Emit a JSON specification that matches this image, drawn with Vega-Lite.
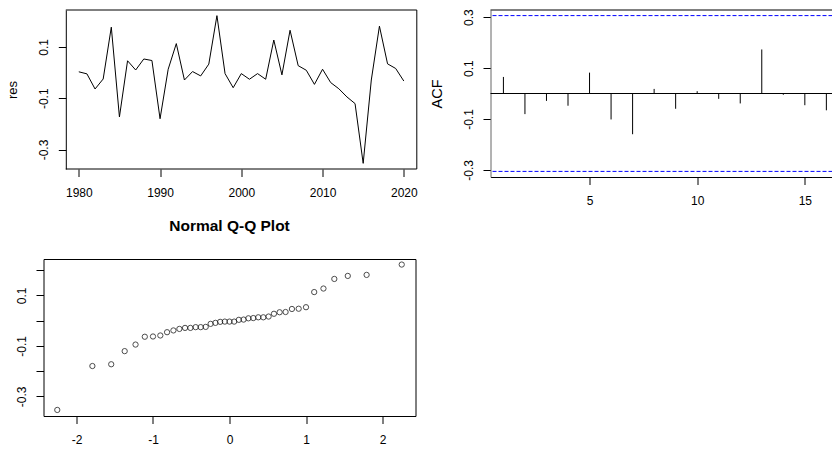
{
  "$schema": "https://vega.github.io/schema/vega-lite/v6.json",
  "background": "white",
  "padding": {"left": 5.5, "top": 8, "right": 0, "bottom": 0},
  "config": {
    "font": "Liberation Sans",
    "view": {"stroke": "#000", "strokeWidth": 1},
    "axis": {"grid": false, "domain": false, "ticks": true, "tickColor": "#000", "tickSize": 7.5, "labelFont": "Liberation Sans", "labelFontSize": 12, "labelColor": "#000", "labelPadding": 10.5, "titleFont": "Liberation Sans", "titleFontSize": 13, "titleFontWeight": "normal", "titleColor": "#000", "labelFlush": false, "labelOverlap": false},
    "axisY": {"labelAngle": -90, "labelAlign": "center", "labelBaseline": "alphabetic"},
    "axisX": {"labelBaseline": "top", "labelPadding": 10.5}
  },
  "datasets": {
    "res": [
      {"year": 1980, "res": 0.003}, {"year": 1981, "res": -0.005}, {"year": 1982, "res": -0.064}, {"year": 1983, "res": -0.025},
      {"year": 1984, "res": 0.177}, {"year": 1985, "res": -0.173}, {"year": 1986, "res": 0.046}, {"year": 1987, "res": 0.010},
      {"year": 1988, "res": 0.053}, {"year": 1989, "res": 0.047}, {"year": 1990, "res": -0.180}, {"year": 1991, "res": 0.013},
      {"year": 1992, "res": 0.113}, {"year": 1993, "res": -0.029}, {"year": 1994, "res": 0.004}, {"year": 1995, "res": -0.013},
      {"year": 1996, "res": 0.033}, {"year": 1997, "res": 0.222}, {"year": 1998, "res": -0.004}, {"year": 1999, "res": -0.059},
      {"year": 2000, "res": -0.004}, {"year": 2001, "res": -0.026}, {"year": 2002, "res": -0.004}, {"year": 2003, "res": -0.026},
      {"year": 2004, "res": 0.127}, {"year": 2005, "res": -0.009}, {"year": 2006, "res": 0.165}, {"year": 2007, "res": 0.027},
      {"year": 2008, "res": 0.009}, {"year": 2009, "res": -0.046}, {"year": 2010, "res": 0.013}, {"year": 2011, "res": -0.039},
      {"year": 2012, "res": -0.063}, {"year": 2013, "res": -0.095}, {"year": 2014, "res": -0.121}, {"year": 2015, "res": -0.354},
      {"year": 2016, "res": -0.029}, {"year": 2017, "res": 0.181}, {"year": 2018, "res": 0.034}, {"year": 2019, "res": 0.016},
      {"year": 2020, "res": -0.033}
    ],
    "acf": [
      {"lag": 1, "acf": 0.065}, {"lag": 2, "acf": -0.081}, {"lag": 3, "acf": -0.029}, {"lag": 4, "acf": -0.048},
      {"lag": 5, "acf": 0.082}, {"lag": 6, "acf": -0.102}, {"lag": 7, "acf": -0.160}, {"lag": 8, "acf": 0.018},
      {"lag": 9, "acf": -0.060}, {"lag": 10, "acf": 0.009}, {"lag": 11, "acf": -0.021}, {"lag": 12, "acf": -0.039},
      {"lag": 13, "acf": 0.173}, {"lag": 14, "acf": -0.005}, {"lag": 15, "acf": -0.046}, {"lag": 16, "acf": -0.066}
    ],
    "ci": [{"ci": 0.306}, {"ci": -0.306}],
    "lines": [{"v": 0}, {"v": 0.328}],
    "qq": [
      {"theoretical": -2.251, "sample": -0.354}, {"theoretical": -1.792, "sample": -0.180}, {"theoretical": -1.546, "sample": -0.173},
      {"theoretical": -1.370, "sample": -0.121}, {"theoretical": -1.228, "sample": -0.095}, {"theoretical": -1.107, "sample": -0.064},
      {"theoretical": -1.000, "sample": -0.063}, {"theoretical": -0.904, "sample": -0.059}, {"theoretical": -0.816, "sample": -0.046},
      {"theoretical": -0.733, "sample": -0.039}, {"theoretical": -0.655, "sample": -0.033}, {"theoretical": -0.581, "sample": -0.029},
      {"theoretical": -0.511, "sample": -0.029}, {"theoretical": -0.442, "sample": -0.026}, {"theoretical": -0.376, "sample": -0.026},
      {"theoretical": -0.311, "sample": -0.025}, {"theoretical": -0.247, "sample": -0.013}, {"theoretical": -0.184, "sample": -0.009},
      {"theoretical": -0.122, "sample": -0.005}, {"theoretical": -0.061, "sample": -0.004}, {"theoretical": 0.0, "sample": -0.004},
      {"theoretical": 0.061, "sample": -0.004}, {"theoretical": 0.122, "sample": 0.003}, {"theoretical": 0.184, "sample": 0.004},
      {"theoretical": 0.247, "sample": 0.009}, {"theoretical": 0.311, "sample": 0.010}, {"theoretical": 0.376, "sample": 0.013},
      {"theoretical": 0.442, "sample": 0.013}, {"theoretical": 0.511, "sample": 0.016}, {"theoretical": 0.581, "sample": 0.027},
      {"theoretical": 0.655, "sample": 0.033}, {"theoretical": 0.733, "sample": 0.034}, {"theoretical": 0.816, "sample": 0.046},
      {"theoretical": 0.904, "sample": 0.047}, {"theoretical": 1.000, "sample": 0.053}, {"theoretical": 1.107, "sample": 0.113},
      {"theoretical": 1.228, "sample": 0.127}, {"theoretical": 1.370, "sample": 0.165}, {"theoretical": 1.546, "sample": 0.177},
      {"theoretical": 1.792, "sample": 0.181}, {"theoretical": 2.251, "sample": 0.222}
    ]
  },
  "spacing": 12,
  "vconcat": [
    {
      "bounds": "flush",
      "spacing": 73,
      "hconcat": [
        {
          "width": 373.3,
          "height": 159,
          "view": {"stroke": null},
          "layer": [
            {
              "data": {"name": "res"},
              "mark": {"type": "line", "color": "#000", "strokeWidth": 1},
              "encoding": {
                "x": {"field": "year", "type": "quantitative", "scale": {"domain": [1975.655, 2021.6], "nice": false, "zero": false},
                      "axis": {"values": [1980, 1990, 2000, 2010, 2020], "format": "d", "title": null}},
                "y": {"field": "res", "type": "quantitative", "scale": {"domain": [-0.376, 0.244], "nice": false, "zero": false},
                      "axis": {"values": [-0.3, -0.2, -0.1, 0, 0.1, 0.2], "format": ".1f", "labelExpr": "abs(round(datum.value*10)) % 2 == 1 ? replace(datum.label, '\u2212', '-') : ''", "title": "res", "titlePadding": 18.5, "offset": -22.3, "domain": true, "domainColor": "#000"}}
              }
            },
            {
              "data": {"values": [{}]},
              "mark": {"type": "rule", "color": "#000", "strokeWidth": 1},
              "encoding": {"x": {"datum": 2021.6}}
            },
            {
              "data": {"values": [{}]},
              "mark": {"type": "rule", "color": "#000", "strokeWidth": 1},
              "encoding": {"x": {"datum": 1978.4}, "x2": {"datum": 2021.6}, "y": {"datum": 0.244}}
            },
            {
              "data": {"values": [{}]},
              "mark": {"type": "rule", "color": "#000", "strokeWidth": 1},
              "encoding": {"x": {"datum": 1978.4}, "x2": {"datum": 2021.6}, "y": {"datum": -0.376}}
            }
          ]
        },
        {
          "width": 342,
          "height": 167,
          "view": {"stroke": null},
          "layer": [
            {
              "data": {"name": "ci"},
              "mark": {"type": "rule", "color": "#0000ff", "strokeDash": [4, 2], "strokeWidth": 1},
              "encoding": {
                "y": {"field": "ci", "type": "quantitative", "scale": {"domain": [-0.328, 0.328], "nice": false, "zero": false},
                      "axis": {"values": [-0.3, -0.2, -0.1, 0, 0.1, 0.2, 0.3], "format": ".1f", "labelExpr": "abs(round(datum.value*10)) % 2 == 1 ? replace(datum.label, '\u2212', '-') : ''", "title": "ACF", "titleFontSize": 14.5, "titlePadding": 18.5, "domain": true, "domainColor": "#666"}}
              }
            },
            {
              "data": {"name": "lines"},
              "mark": {"type": "rule", "color": "#000", "strokeWidth": 1},
              "encoding": {"y": {"field": "v", "type": "quantitative"}}
            },
            {
              "data": {"name": "acf"},
              "mark": {"type": "rule", "color": "#000", "strokeWidth": 1},
              "encoding": {
                "x": {"field": "lag", "type": "quantitative", "scale": {"domain": [0.4, 16.285], "nice": false, "zero": false},
                      "axis": {"values": [5, 10, 15], "format": "d", "title": null, "domain": true, "domainColor": "#000"}},
                "y": {"field": "acf", "type": "quantitative"},
                "y2": {"datum": 0}
              }
            }
          ]
        }
      ]
    },
    {
      "width": 372,
      "height": 157,
      "title": {"text": "Normal Q-Q Plot", "font": "Liberation Sans", "fontSize": 15.5, "fontWeight": "bold", "color": "#000", "anchor": "middle", "baseline": "alphabetic", "offset": 13},
      "data": {"name": "qq"},
      "mark": {"type": "point", "filled": false, "color": "#000", "size": 28, "strokeWidth": 1},
      "encoding": {
        "x": {"field": "theoretical", "type": "quantitative", "scale": {"domain": [-2.431, 2.431], "nice": false, "zero": false},
              "axis": {"values": [-2, -1, 0, 1, 2], "format": "d", "labelExpr": "replace(datum.label, '\u2212', '-')", "title": null}},
        "y": {"field": "sample", "type": "quantitative", "scale": {"domain": [-0.378, 0.244], "nice": false, "zero": false},
              "axis": {"values": [-0.3, -0.2, -0.1, 0, 0.1, 0.2], "format": ".1f", "labelExpr": "abs(round(datum.value*10)) % 2 == 1 ? replace(datum.label, '\u2212', '-') : ''", "title": null, "minExtent": 35}}
      }
    }
  ]
}
